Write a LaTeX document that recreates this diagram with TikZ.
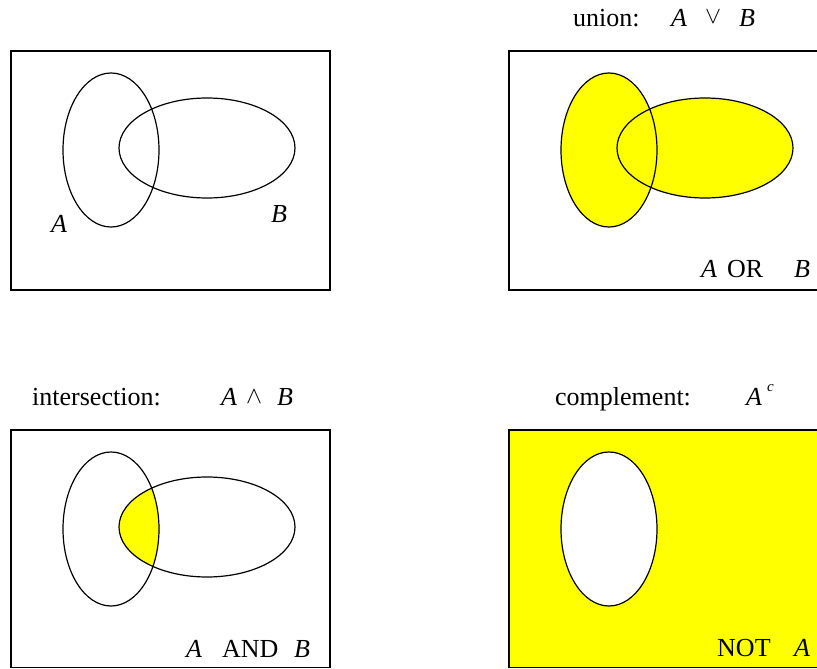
\documentclass[tikz,border=0pt]{standalone}
\usepackage{fontspec}
\setmainfont{Liberation Serif}
\definecolor{vyellow}{RGB}{255,255,0}
\begin{document}
\begin{tikzpicture}[x=1pt,y=-1pt,
  lbl/.style={anchor=base west, inner sep=0pt, font=\fontsize{26}{30}\selectfont},
  ilbl/.style={anchor=base west, inner sep=0pt, font=\fontsize{26}{30}\selectfont\itshape},
  sym/.style={anchor=base west, inner sep=0pt},
  sup/.style={anchor=base west, inner sep=0pt, font=\fontsize{15}{17}\selectfont\itshape},
  frame/.style={draw=black, line width=1.2pt},
  venn/.style={draw=black, line width=1.2pt},
  hl/.style={fill=vyellow}]
\useasboundingbox (0,0) rectangle (817,669);
\clip (0,0) rectangle (817,669);

% ---------- top-left: plain A and B ----------
\draw[frame] (11,51) rectangle (330,290);
\draw[venn] (111,150) ellipse [x radius=48pt, y radius=77pt];
\draw[venn] (207,148) ellipse [x radius=88pt, y radius=50pt];
\node[ilbl] (tlA) at (51,232) {A};
\node[ilbl] (tlB) at (271,222) {B};

% ---------- top-right: union ----------
\draw[frame] (509,51) rectangle (840,290);
\fill[hl] (609,150) ellipse [x radius=48pt, y radius=77pt];
\fill[hl] (705,148) ellipse [x radius=88pt, y radius=50pt];
\draw[venn] (609,150) ellipse [x radius=48pt, y radius=77pt];
\draw[venn] (705,148) ellipse [x radius=88pt, y radius=50pt];
\node[lbl] (uT) at (573,27) {union:};
\node[ilbl] (uA) at (671,27) {A};
\node[sym] (uV) at (705,24) {\scalebox{2.4}{$\vee$}};
\node[ilbl] (uB) at (739,27) {B};
\node[ilbl] (orA) at (701,277) {A};
\node[lbl] (orT) at (727,277) {OR};
\node[ilbl] (orB) at (794,277) {B};

% ---------- bottom-left: intersection ----------
\draw[frame] (11,430) rectangle (330,667.5);
\begin{scope}
  \clip (111,529) ellipse [x radius=48pt, y radius=77pt];
  \fill[hl] (207,527) ellipse [x radius=88pt, y radius=50pt];
\end{scope}
\draw[venn] (111,529) ellipse [x radius=48pt, y radius=77pt];
\draw[venn] (207,527) ellipse [x radius=88pt, y radius=50pt];
\node[lbl] (iT) at (32,405) {intersection:};
\node[ilbl] (iA) at (221,405) {A};
\node[sym] (iW) at (246,403) {\scalebox{2.4}{$\wedge$}};
\node[ilbl] (iB) at (277,405) {B};
\node[ilbl] (andA) at (186,657) {A};
\node[lbl] (andT) at (222,657) {AND};
\node[ilbl] (andB) at (294,657) {B};

% ---------- bottom-right: complement ----------
\fill[hl] (509,430) rectangle (840,667.5);
\fill[white] (609,529) ellipse [x radius=48pt, y radius=77pt];
\draw[frame] (509,430) rectangle (840,667.5);
\draw[venn] (609,529) ellipse [x radius=48pt, y radius=77pt];
\node[lbl] (cT) at (555,405) {complement:};
\node[ilbl] (cA) at (746,405) {A};
\node[sup] (cC) at (767,391) {c};
\node[lbl] (notT) at (717,656) {NOT};
\node[ilbl] (notA) at (794,656) {A};
\end{tikzpicture}
\end{document}
